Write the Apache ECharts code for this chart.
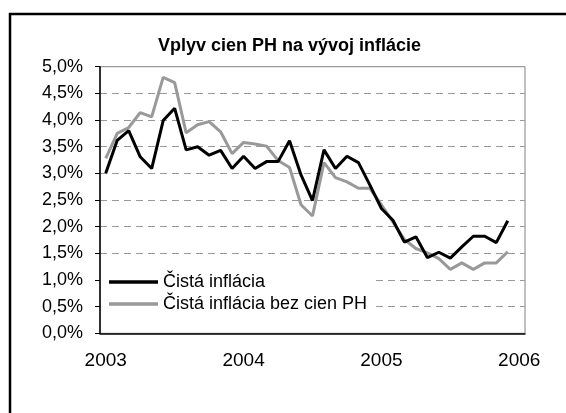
<!DOCTYPE html>
<html>
<head>
<meta charset="utf-8">
<style>
  html, body { margin: 0; padding: 0; background: #fff; }
  #chart { width: 566px; height: 413px; }
</style>
<script src="https://cdn.jsdelivr.net/npm/echarts@6/dist/echarts.min.js"></script>
</head>
<body>
<div id="chart"></div>
<script>
// roky na osi x (mesačné údaje 2003-2005)
const yearLabels = ['2003', '2004', '2005', '2006'];

// Čistá inflácia, mesačne od 1/2003
const cistaInflacia = [
    3.00, 3.62, 3.80, 3.31, 3.09, 3.99, 4.22, 3.44, 3.50, 3.34, 3.43, 3.09,
    3.32, 3.09, 3.22, 3.22, 3.61, 2.97, 2.49, 3.44, 3.09, 3.32, 3.20, 2.78,
    2.34, 2.12, 1.71, 1.81, 1.42, 1.52, 1.41, 1.62, 1.82, 1.82, 1.70, 2.11
];

// Čistá inflácia bez cien PH
const bezCienPH = [
    3.28, 3.75, 3.86, 4.14, 4.06, 4.80, 4.70, 3.76, 3.91, 3.97, 3.78, 3.37,
    3.58, 3.55, 3.51, 3.24, 3.11, 2.41, 2.20, 3.20, 2.92, 2.84, 2.72, 2.72,
    2.41, 2.09, 1.76, 1.59, 1.51, 1.40, 1.20, 1.32, 1.20, 1.32, 1.32, 1.53
];

// kategórie: mesiace 1/2003 .. 1/2006 (posledný slot prázdny ako v Exceli)
const months = [];
for (let i = 0; i <= 36; i++) {
    const y = yearLabels[Math.floor(i / 12)];
    months.push(i % 12 === 0 ? y : y + '-' + (i % 12 + 1));
}

const font = 'Arial, "Liberation Sans", sans-serif';
const chart = echarts.init(document.getElementById('chart'));

chart.setOption({
    animation: false,
    title: {
        text: 'Vplyv cien PH na vývoj inflácie',
        left: 158,
        top: 37,
        padding: 0,
        textStyle: { fontFamily: font, fontSize: 18, fontWeight: 'bold', color: '#000' }
    },
    graphic: [{
        type: 'rect',
        shape: { x: 10, y: 14, width: 570, height: 420 },
        style: { fill: 'none', stroke: '#000', lineWidth: 2.5 },
        silent: true
    }],
    legend: {
        orient: 'vertical',
        left: 101,
        top: 268,
        padding: [4, 8, 8, 8],
        backgroundColor: '#fff',
        itemWidth: 49,
        itemHeight: 3.5,
        itemGap: 2,
        icon: 'rect',
        textStyle: { fontFamily: font, fontSize: 18, color: '#000', lineHeight: 20 }
    },
    grid: {
        left: 100,
        top: 66.7,
        right: 41,
        bottom: 79.7,
        show: true,
        borderColor: '#808080',
        borderWidth: 1,
        containLabel: false
    },
    xAxis: {
        type: 'category',
        data: months,
        boundaryGap: true,
        axisLine: { lineStyle: { color: '#000', width: 1.5 } },
        axisTick: {
            interval: function (index) { return index % 12 === 0; },
            length: 5,
            lineStyle: { color: '#000' }
        },
        axisLabel: {
            interval: function (index) { return index % 12 === 0; },
            formatter: function (v) { return v.split('-')[0]; },
            margin: 18,
            fontFamily: font,
            fontSize: 19,
            color: '#000'
        },
        splitLine: { show: false }
    },
    yAxis: {
        type: 'value',
        min: 0,
        max: 5,
        interval: 0.5,
        axisLine: { show: true, lineStyle: { color: '#000', width: 1.5 } },
        axisTick: { show: true, length: 5, lineStyle: { color: '#000' } },
        axisLabel: {
            formatter: function (v) { return v.toFixed(1).replace('.', ',') + '%'; },
            margin: 17,
            fontFamily: font,
            fontSize: 18,
            color: '#000'
        },
        splitLine: { lineStyle: { color: '#999', type: [7, 5], width: 1 } }
    },
    series: [
        {
            name: 'Čistá inflácia',
            type: 'line',
            data: cistaInflacia,
            symbol: 'none',
            lineStyle: { color: '#000', width: 3 },
            itemStyle: { color: '#000' },
            z: 3
        },
        {
            name: 'Čistá inflácia bez cien PH',
            type: 'line',
            data: bezCienPH,
            symbol: 'none',
            lineStyle: { color: '#999', width: 3 },
            itemStyle: { color: '#999' },
            z: 2
        }
    ]
});
</script>
</body>
</html>
